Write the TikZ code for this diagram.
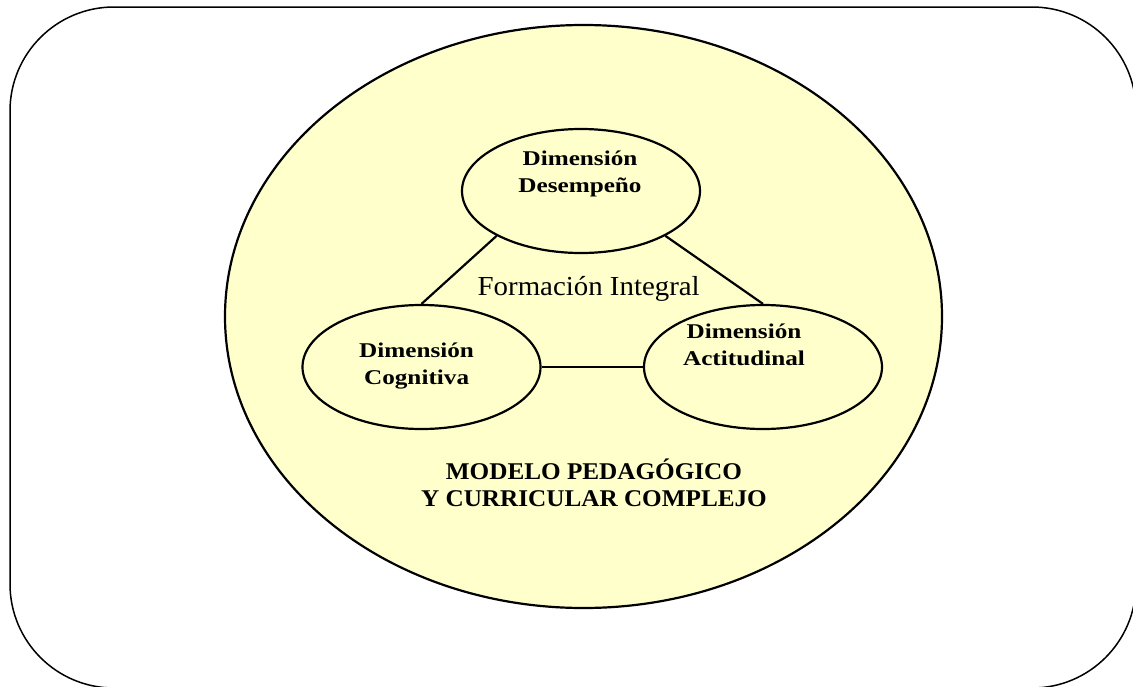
\documentclass[tikz,border=0pt]{standalone}
\usepackage{fontspec}
\setmainfont{Liberation Serif}[FakeStretch=1.05]
\newfontfamily\dimfont{Liberation Serif}[FakeStretch=1.2]
\usetikzlibrary{shapes}
\usepackage{xcolor}
\definecolor{amarillo}{RGB}{255,255,204}
\begin{document}
\begin{tikzpicture}[x=1pt,y=-1pt]
    \useasboundingbox (0,0) rectangle (1133,686);
    \draw[line width=1.5pt,rounded corners=104pt] (10,7) rectangle (1136,688);
    \node[ellipse,draw,line width=2.2pt,fill=amarillo,minimum width=717pt,minimum height=583pt] (M) at (583.5,316.5) {};
    \begin{scope}[minimum width=238pt,minimum height=124pt]
      \tikzstyle{every node}=[ellipse,draw,line width=2.2pt,fill=amarillo,inner sep=0pt]
      \node (D)     at (581  ,191) {};
      \node (C)     at (421.5,367) {};
      \node (A)     at (763  ,367) {};
    \end{scope}
    \draw[line width=2.2pt]  (D.208) -- (C.north)  ;
    \draw[line width=2.2pt]  (D.332) -- (A.north)  ;
    \draw[line width=2.2pt]  (C) -- (A)  ;
    \tikzstyle{dimtext}=[font=\dimfont\bfseries\fontsize{21}{26.7}\selectfont,align=center]
    \node[dimtext] (Dt)  at (580  ,174) {Dimensión\\Desempeño};
    \node[dimtext] (Ct)  at (416.6,366) {Dimensión\\Cognitiva};
    \node[dimtext] (At)  at (744  ,345) {Dimensión\\Actitudinal};
    \node[font=\fontsize{27.5}{33}\selectfont,anchor=base] (F) at (588.7,295) {Formación Integral};
    \node[font=\bfseries\fontsize{24}{26.7}\selectfont,align=center] (Mt) at (594,483) {MODELO PEDAGÓGICO\\Y CURRICULAR COMPLEJO};
  \end{tikzpicture}
\end{document}
